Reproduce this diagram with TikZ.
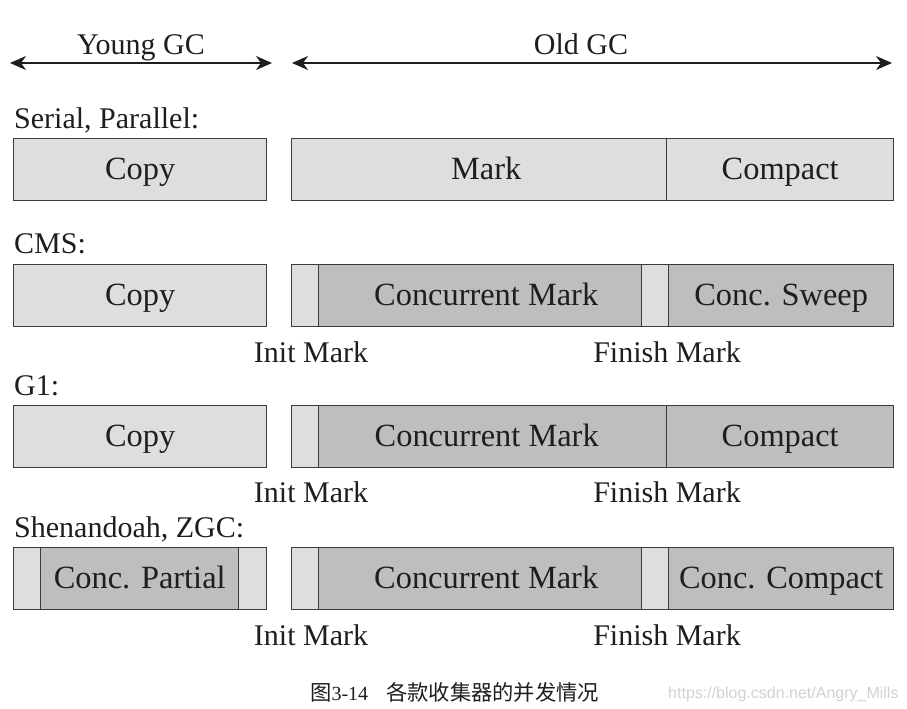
\documentclass[tikz,border=0pt]{standalone}
\usepackage{fontspec}
\setmainfont{Liberation Serif}
\newfontfamily\cjk{Noto Sans CJK SC}
\newfontfamily\wmfont{Liberation Sans}
\usetikzlibrary{arrows.meta}
\definecolor{lightseg}{HTML}{DCDEDF}
\definecolor{darkseg}{HTML}{BCBEC0}
\definecolor{edge}{HTML}{3C3C3C}
\definecolor{txt}{HTML}{1E1E1E}
\tikzset{
  seg/.style={draw=edge, line width=1.4pt, minimum height=62pt, inner sep=0pt, text height=27pt, text depth=7pt, anchor=north west, text=txt, font=\fontsize{32.4}{36}\selectfont},
  lseg/.style={seg, fill=lightseg},
  dseg/.style={seg, fill=darkseg},
  lab/.style={anchor=base west, inner sep=0pt, text=txt, font=\fontsize{30}{36}\selectfont},
  sub/.style={anchor=base, inner sep=0pt, text=txt, font=\fontsize{30}{36}\selectfont},
  span/.style={draw=txt, line width=1.3pt, {Stealth[length=16pt,width=14pt,inset=5pt]}-{Stealth[length=16pt,width=14pt,inset=5pt]}},
}
\begin{document}
\begin{tikzpicture}[x=1pt,y=-1pt]
\useasboundingbox (0,0) rectangle (907,709);
% header
\coordinate (ya) at (10,63);
\coordinate (yb) at (272,63);
\coordinate (oa) at (292,63);
\coordinate (ob) at (892,63);
\draw[span] (ya) -- (yb);
\draw[span] (oa) -- (ob);
\node[sub] (young) at (141,55) {Young GC};
\node[sub] (old) at (581,55) {Old GC};
% row 1
\node[lab] (l1) at (14,128) {Serial, Parallel:};
\node[lseg, minimum width=253pt] (r1y) at (13,138) {Copy};
\node[lseg, minimum width=375pt] (r1m) at (291,138) {\hspace{14pt}Mark};
\node[lseg, minimum width=227pt] (r1c) at (666,138) {Compact};
% row 2
\node[lab] (l2) at (14,253) {CMS:};
\node[lseg, minimum width=253pt] (r2y) at (13,264) {Copy};
\node[lseg, minimum width=27pt] (r2i) at (291,264) {};
\node[dseg, minimum width=323pt] (r2m) at (318,264) {\hspace{12pt}Concurrent Mark};
\node[lseg, minimum width=27pt] (r2f) at (641,264) {};
\node[dseg, minimum width=225pt] (r2s) at (668,264) {Conc. Sweep};
\node[sub] (r2il) at (311,362) {Init Mark};
\node[sub] (r2fl) at (667,362) {Finish Mark};
% row 3
\node[lab] (l3) at (14,395) {G1:};
\node[lseg, minimum width=253pt] (r3y) at (13,405) {Copy};
\node[lseg, minimum width=27pt] (r3i) at (291,405) {};
\node[dseg, minimum width=348pt] (r3m) at (318,405) {Concurrent Mark\kern12pt\relax};
\node[dseg, minimum width=227pt] (r3c) at (666,405) {Compact};
\node[sub] (r3il) at (311,502) {Init Mark};
\node[sub] (r3fl) at (667,502) {Finish Mark};
% row 4
\node[lab] (l4) at (14,537) {Shenandoah, ZGC:};
\node[lseg, minimum width=27pt] (r4a) at (13,547) {};
\node[dseg, minimum width=198pt] (r4p) at (40,547) {Conc. Partial};
\node[lseg, minimum width=28pt] (r4b) at (238,547) {};
\node[lseg, minimum width=27pt] (r4i) at (291,547) {};
\node[dseg, minimum width=323pt] (r4m) at (318,547) {\hspace{12pt}Concurrent Mark};
\node[lseg, minimum width=27pt] (r4f) at (641,547) {};
\node[dseg, minimum width=225pt] (r4c) at (668,547) {Conc. Compact};
\node[sub] (r4il) at (311,645) {Init Mark};
\node[sub] (r4fl) at (667,645) {Finish Mark};
% caption
\node[anchor=base west, inner sep=0pt, text=txt, font=\fontsize{20}{24}\selectfont] (cap) at (310,700) {{\cjk\fontsize{21.3}{24}\selectfont 图}3-14\hspace{18pt}{\cjk\fontsize{21.3}{24}\selectfont 各款收集器的并发情况}};
\node[anchor=base west, inner sep=0pt, text=black!18, font=\wmfont\fontsize{16}{20}\selectfont] (wm) at (668,698) {https://blog.csdn.net/Angry\_Mills};
\end{tikzpicture}
\end{document}
